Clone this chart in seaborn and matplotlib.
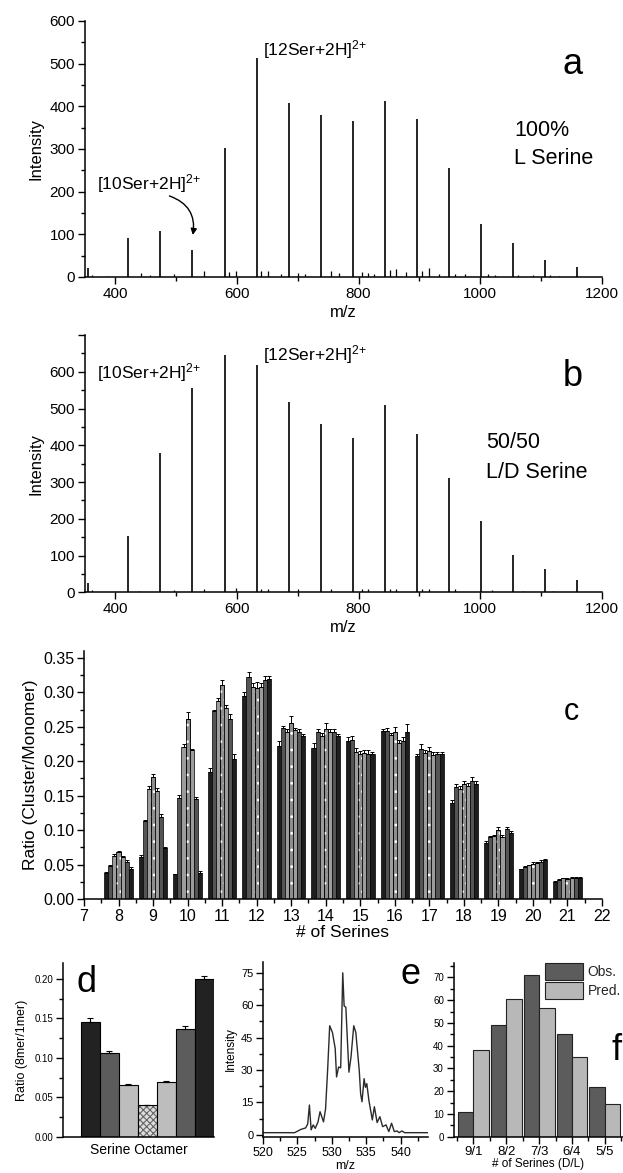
import numpy as np
import pandas as pd
import matplotlib
matplotlib.use("Agg")
import matplotlib.pyplot as plt
from matplotlib.patches import Patch
from matplotlib.ticker import MultipleLocator
import seaborn as sns

sns.set_theme(style="ticks")
plt.rcParams["font.family"] = ["Liberation Sans", "DejaVu Sans"]
plt.rcParams["mathtext.default"] = "regular"
plt.rcParams["hatch.linewidth"] = 0.8

W, H = 623, 1173

# ==============================
# Data
# ==============================
# panels a / b : [nSer+2H]2+ cluster peaks
peak_mz = [355, 421, 474, 527, 580, 633, 686, 738, 791, 843, 896, 949, 1002, 1054, 1107, 1159]
peak_a = [22, 91, 107, 64, 302, 514, 407, 380, 366, 413, 370, 255, 125, 80, 40, 23]
peak_b = [24, 154, 378, 557, 645, 618, 517, 457, 421, 509, 431, 312, 194, 102, 63, 34]

minor_mz_a = [362, 388, 442, 458, 497, 546, 587, 598, 640, 652, 672, 700, 712, 755, 768,
              806, 815, 826, 852, 862, 878, 905, 915, 932, 958, 975, 1012, 1025, 1062, 1087, 1114, 1130]
minor_int_a = [5, 3, 10, 4, 6, 15, 12, 15, 15, 14, 6, 10, 6, 15, 10,
               12, 10, 7, 17, 18, 12, 15, 20, 6, 8, 6, 7, 5, 5, 4, 5, 3]
minor_mz_b = [362, 440, 497, 546, 598, 640, 652, 700, 755, 806, 815, 852, 862, 905, 915, 958, 1020, 1070, 1120]
minor_int_b = [5, 4, 6, 8, 12, 10, 8, 10, 9, 10, 8, 10, 10, 9, 8, 8, 5, 4, 3]

# panel c : cluster/monomer ratio, 7 bars per cluster size
n_serines = [8, 9, 10, 11, 12, 13, 14, 15, 16, 17, 18, 19, 20, 21]
ratio_8 = [0.038, 0.048, 0.062, 0.068, 0.061, 0.053, 0.044]
ratio_9 = [0.061, 0.113, 0.160, 0.177, 0.157, 0.119, 0.074]
ratio_10 = [0.036, 0.146, 0.221, 0.262, 0.216, 0.145, 0.038]
ratio_11 = [0.184, 0.273, 0.287, 0.310, 0.277, 0.262, 0.203]
ratio_12 = [0.294, 0.322, 0.308, 0.307, 0.308, 0.318, 0.319]
ratio_13 = [0.222, 0.248, 0.243, 0.256, 0.245, 0.243, 0.237]
ratio_14 = [0.219, 0.242, 0.237, 0.247, 0.242, 0.243, 0.236]
ratio_15 = [0.229, 0.231, 0.214, 0.210, 0.212, 0.211, 0.211]
ratio_16 = [0.244, 0.244, 0.238, 0.243, 0.226, 0.230, 0.242]
ratio_17 = [0.207, 0.218, 0.212, 0.215, 0.209, 0.210, 0.210]
ratio_18 = [0.140, 0.163, 0.160, 0.167, 0.164, 0.171, 0.167]
ratio_19 = [0.081, 0.090, 0.091, 0.100, 0.090, 0.101, 0.096]
ratio_20 = [0.043, 0.047, 0.049, 0.051, 0.052, 0.054, 0.056]
ratio_21 = [0.025, 0.028, 0.030, 0.029, 0.031, 0.031, 0.031]

err_8 = [0.001, 0.002, 0.003, 0.002, 0.002, 0.003, 0.002]
err_9 = [0.003, 0.002, 0.004, 0.005, 0.004, 0.005, 0.002]
err_10 = [0.001, 0.005, 0.004, 0.010, 0.002, 0.003, 0.002]
err_11 = [0.006, 0.002, 0.005, 0.008, 0.005, 0.006, 0.008]
err_12 = [0.006, 0.007, 0.005, 0.008, 0.005, 0.005, 0.004]
err_13 = [0.008, 0.003, 0.004, 0.010, 0.003, 0.004, 0.003]
err_14 = [0.008, 0.005, 0.004, 0.009, 0.005, 0.004, 0.003]
err_15 = [0.006, 0.005, 0.005, 0.005, 0.004, 0.005, 0.002]
err_16 = [0.003, 0.004, 0.003, 0.006, 0.005, 0.005, 0.012]
err_17 = [0.003, 0.007, 0.004, 0.005, 0.004, 0.004, 0.004]
err_18 = [0.004, 0.004, 0.004, 0.005, 0.004, 0.006, 0.004]
err_19 = [0.003, 0.002, 0.002, 0.005, 0.003, 0.003, 0.002]
err_20 = [0.001, 0.001, 0.001, 0.002, 0.001, 0.002, 0.002]
err_21 = [0.001, 0.001, 0.001, 0.001, 0.001, 0.001, 0.001]

# panel d : serine octamer
octamer_ratio = [0.145, 0.106, 0.066, 0.040, 0.070, 0.137, 0.200]
octamer_err = [0.005, 0.003, 0.0015, 0.001, 0.001, 0.003, 0.003]

# panel e : octamer isotope profile
e_mz = [520, 524.6, 525.5, 526.2, 526.5, 526.75, 527.0, 527.3, 527.6, 528.0, 528.3, 528.8,
        529.1, 529.4, 529.7, 530.1, 530.5, 530.7, 531.0, 531.3, 531.6, 531.8, 532.05, 532.5,
        532.8, 533.2, 533.5, 534.0, 534.2, 534.4, 534.7, 534.9, 535.1, 535.4, 535.9, 536.2,
        536.6, 537.0, 537.4, 537.9, 538.3, 538.7, 539.1, 539.5, 539.8, 540.2, 540.6, 541.5, 544]
e_int = [1.0, 1.0, 2.5, 3.2, 5.0, 13.8, 2.3, 4.6, 3.0, 6.0, 10.7, 6.0,
         12, 30, 50.5, 47.4, 40, 26.8, 31.4, 31, 75, 59.7, 59, 29,
         36, 50.5, 47.4, 29.8, 19, 15.3, 26, 22, 23.7, 16, 6.9, 13,
         5.7, 8.4, 3.8, 4.6, 1.5, 5.4, 1.5, 1.8, 1.0, 1.8, 1.0, 1.0, 1.0]

# panel f : D/L composition
f_labels = ["9/1", "8/2", "7/3", "6/4", "5/5"]
f_obs = [11, 49, 71, 45, 22]
f_pred = [38, 60.5, 56.5, 35, 14.5]

# ==============================
# Helpers
# ==============================
fig = plt.figure(figsize=(W / 100, H / 100), dpi=100)
fig.patch.set_facecolor("white")


def px_axes(l, t, r, b):
    return fig.add_axes([l / W, 1 - b / H, (r - l) / W, (b - t) / H])


def style(ax, fs):
    sns.despine(ax=ax)
    ax.set_facecolor("white")
    for s in ["left", "bottom"]:
        ax.spines[s].set_color("black")
        ax.spines[s].set_linewidth(1.1)
    ax.tick_params(which="major", direction="out", length=5, width=1, labelsize=fs,
                   color="black", labelcolor="black", pad=2)
    ax.tick_params(which="minor", direction="out", length=3, width=1, color="black")


def ftext(x, y, s, fs, **kw):
    fig.text(x / W, 1 - y / H, s, fontsize=fs, color="black", **kw)


ion10 = "[10Ser+2H]$^{2{+}}$"
ion12 = "[12Ser+2H]$^{2{+}}$"

# ==============================
# Panels a / b
# ==============================
def spectrum(ax, heights, minor_mz, minor_int, ymax):
    ax.vlines(minor_mz, 0, minor_int, color="black", lw=0.9)
    ax.vlines(peak_mz, 0, heights, color="black", lw=1.2)
    ax.set_xlim(350, 1200)
    ax.set_ylim(0, ymax)
    ax.xaxis.set_major_locator(MultipleLocator(200))
    ax.xaxis.set_minor_locator(MultipleLocator(100))
    ax.yaxis.set_major_locator(MultipleLocator(100))
    ax.yaxis.set_minor_locator(MultipleLocator(50))
    style(ax, 11)
    ax.set_xlabel("m/z", fontsize=12, color="black", labelpad=3)
    ax.set_ylabel("Intensity", fontsize=12, color="black", labelpad=4)


ax_a = px_axes(84.6, 21, 602, 277)
spectrum(ax_a, peak_a, minor_mz_a, minor_int_a, 600)
ax_a.text(643, 532, ion12, fontsize=12.5, va="center", color="black")
ax_a.text(370, 220, ion10, fontsize=12.5, va="center", color="black")
ax_a.annotate("", xy=(527, 92), xytext=(485, 192),
              arrowprops=dict(arrowstyle="-|>", color="black", lw=1,
                              connectionstyle="arc3,rad=-0.45", mutation_scale=9))
ftext(573, 65, "a", 26, ha="center", va="center")
ftext(514, 130, "100%", 15.5, va="center")
ftext(514, 159, "L Serine", 15.5, va="center")

ax_b = px_axes(84.6, 335, 602, 592.3)
spectrum(ax_b, peak_b, minor_mz_b, minor_int_b, 700)
ax_b.set_yticks([0, 100, 200, 300, 400, 500, 600, 700])
ax_b.set_yticklabels(["0", "100", "200", "300", "400", "500", "600", ""])
ax_b.text(370, 599, ion10, fontsize=12.5, va="center", color="black")
ax_b.text(643, 646, ion12, fontsize=12.5, va="center", color="black")
ftext(573, 376, "b", 26, ha="center", va="center")
ftext(486, 443, "50/50", 15.5, va="center")
ftext(486, 472, "L/D Serine", 15.5, va="center")

# ==============================
# Panel c
# ==============================
ax_c = px_axes(84, 651, 602, 899)
ratios = np.array([ratio_8, ratio_9, ratio_10, ratio_11, ratio_12, ratio_13, ratio_14,
                   ratio_15, ratio_16, ratio_17, ratio_18, ratio_19, ratio_20, ratio_21])
errs = np.array([err_8, err_9, err_10, err_11, err_12, err_13, err_14,
                 err_15, err_16, err_17, err_18, err_19, err_20, err_21])
bar_colors = ["#1e1e1e", "#555555", "#9c9c9c", "#8e8e8e", "#9c9c9c", "#555555", "#1e1e1e"]
bw = 0.118
n_arr = np.array(n_serines)
for j in range(7):
    x = n_arr + (j - 3) * bw
    ax_c.bar(x, ratios[:, j], width=bw, color=bar_colors[j], edgecolor="black", linewidth=0.5)
    if j == 3:
        ax_c.bar(x, ratios[:, j], width=bw, fill=False, hatch="..", edgecolor="white", linewidth=0)
        ax_c.bar(x, ratios[:, j], width=bw, fill=False, edgecolor="black", linewidth=0.5)
    ax_c.errorbar(x, ratios[:, j], yerr=[np.zeros(len(n_arr)), errs[:, j]], fmt="none",
                  ecolor="black", elinewidth=0.7, capsize=1.6, capthick=0.7)
ax_c.set_xlim(7, 22)
ax_c.set_ylim(0, 0.36)
ax_c.xaxis.set_major_locator(MultipleLocator(1))
ax_c.xaxis.set_minor_locator(MultipleLocator(0.5))
ax_c.yaxis.set_major_locator(MultipleLocator(0.05))
ax_c.yaxis.set_minor_locator(MultipleLocator(0.025))
ax_c.yaxis.set_major_formatter(matplotlib.ticker.FormatStrFormatter("%.2f"))
style(ax_c, 11.5)
ax_c.set_xlabel("# of Serines", fontsize=12.5, color="black", labelpad=1)
ax_c.set_ylabel("Ratio (Cluster/Monomer)", fontsize=12.5, color="black", labelpad=4)
ftext(571, 712, "c", 22, ha="center", va="center")

# ==============================
# Panel d
# ==============================
ax_d = px_axes(63, 963, 214, 1137)
d_colors = ["#222222", "#5c5c5c", "#bdbdbd", "#dcdcdc", "#bdbdbd", "#5c5c5c", "#222222"]
xd = np.arange(7)
for i in range(7):
    if i == 3:
        ax_d.bar(xd[i], octamer_ratio[i], width=1, color=d_colors[i], hatch="xxxxx",
                 edgecolor="#666666", linewidth=0)
        ax_d.bar(xd[i], octamer_ratio[i], width=1, fill=False, edgecolor="black", linewidth=0.8)
    else:
        ax_d.bar(xd[i], octamer_ratio[i], width=1, color=d_colors[i], edgecolor="black", linewidth=0.8)
ax_d.errorbar(xd, octamer_ratio, yerr=[np.zeros(7), octamer_err], fmt="none",
              ecolor="black", elinewidth=0.8, capsize=2.5, capthick=0.8)
ax_d.set_xlim(-1.43, 6.5)
ax_d.set_ylim(0, 0.22)
ax_d.set_xticks([])
ax_d.yaxis.set_major_locator(MultipleLocator(0.05))
ax_d.yaxis.set_minor_locator(MultipleLocator(0.025))
ax_d.yaxis.set_major_formatter(matplotlib.ticker.FormatStrFormatter("%.2f"))
style(ax_d, 7)
ax_d.set_xlabel("Serine Octamer", fontsize=10, color="black", labelpad=4)
ax_d.set_ylabel("Ratio (8mer/1mer)", fontsize=9, color="black", labelpad=5)
ftext(86, 982, "d", 26, ha="center", va="center")

# ==============================
# Panel e
# ==============================
ax_e = px_axes(263, 962, 428, 1137)
sns.lineplot(x=e_mz, y=e_int, ax=ax_e, color="#2a2a2a", lw=1)
ax_e.set_xlim(520, 544)
ax_e.set_ylim(-1, 80)
ax_e.xaxis.set_major_locator(MultipleLocator(5))
ax_e.xaxis.set_minor_locator(MultipleLocator(2.5))
ax_e.yaxis.set_major_locator(MultipleLocator(15))
ax_e.yaxis.set_minor_locator(MultipleLocator(7.5))
style(ax_e, 8)
ax_e.tick_params(axis="x", labelsize=9)
ax_e.set_xlabel("m/z", fontsize=9, color="black", labelpad=1)
ax_e.set_ylabel("Intensity", fontsize=8.5, color="black", labelpad=3)
ftext(411, 975, "e", 26, ha="center", va="center")

# ==============================
# Panel f
# ==============================
ax_f = px_axes(453.6, 962.7, 623, 1136.7)
df_f = pd.DataFrame({"comp": f_labels * 2,
                     "value": f_obs + f_pred,
                     "kind": ["Obs."] * 5 + ["Pred."] * 5})
f_pal = {"Obs.": "#5c5c5c", "Pred.": "#b8b8b8"}
sns.barplot(data=df_f, x="comp", y="value", hue="kind", palette=f_pal, width=0.94,
            saturation=1, edgecolor="#222222", linewidth=0.8, ax=ax_f, legend=False)
ax_f.set_xlim(-0.6, 4.55)
ax_f.set_ylim(0, 76.5)
ax_f.set_xticks(range(5))
ax_f.set_xticklabels(f_labels)
ax_f.xaxis.set_minor_locator(MultipleLocator(0.5))
ax_f.yaxis.set_major_locator(MultipleLocator(10))
ax_f.yaxis.set_minor_locator(MultipleLocator(5))
style(ax_f, 7)
ax_f.tick_params(axis="x", labelsize=9.5)
ax_f.set_xlabel("# of Serines (D/L)", fontsize=8.5, color="black", labelpad=0)
ax_f.set_ylabel("")
handles = [Patch(facecolor=f_pal[k], edgecolor="#222222", linewidth=0.8, label=k) for k in f_pal]
ax_f.legend(handles=handles, loc="upper right", bbox_to_anchor=(1.02, 1.03), frameon=False,
            fontsize=10, handlelength=2.8, handleheight=1.5, handletextpad=0.3,
            labelspacing=0.15, borderaxespad=0)
ftext(617, 1050, "f", 26, ha="center", va="center")

fig.savefig("out.png", dpi=100, facecolor="white")
